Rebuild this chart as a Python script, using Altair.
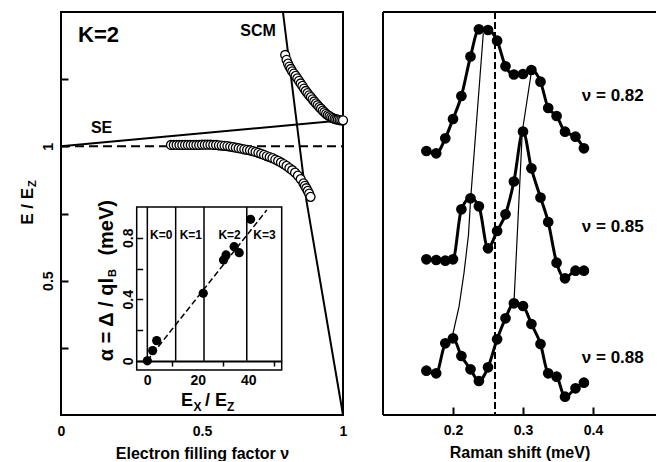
import altair as alt
import pandas as pd

# ---------------- left panel: E/E_Z versus filling factor ----------------
se_nu = [0.0, 1.0]
se_e = [1.0, 1.097]
scm_nu = [0.787, 0.870, 1.0]
scm_e = [1.5, 0.80, 0.0]
ref_nu = [0.0, 1.0]
ref_e = [1.0, 1.0]
lower_nu = [0.39, 0.40, 0.41, 0.42, 0.43, 0.44, 0.45, 0.46, 0.47, 0.48,
            0.49, 0.50, 0.51, 0.52, 0.53, 0.54, 0.55, 0.56, 0.57, 0.58,
            0.59, 0.60, 0.61, 0.62, 0.63, 0.64, 0.65, 0.66, 0.67, 0.68,
            0.69, 0.70, 0.71, 0.72, 0.73, 0.74, 0.75, 0.76, 0.77, 0.78,
            0.79, 0.80, 0.81, 0.82, 0.83, 0.84, 0.85, 0.86, 0.865, 0.87,
            0.875, 0.88, 0.885]
lower_e = [1.005, 1.005, 1.005, 1.005, 1.005, 1.005, 1.005, 1.005, 1.005, 1.005,
           1.005, 1.006, 1.006, 1.006, 1.006, 1.005, 1.005, 1.004, 1.003, 1.002,
           1.001, 0.999, 0.997, 0.995, 0.993, 0.991, 0.989, 0.987, 0.985, 0.982,
           0.979, 0.976, 0.972, 0.968, 0.964, 0.960, 0.956, 0.951, 0.946, 0.940,
           0.934, 0.927, 0.919, 0.911, 0.902, 0.891, 0.878, 0.862, 0.853, 0.844,
           0.834, 0.824, 0.812]
upper_nu = [0.795, 0.800, 0.805, 0.810, 0.815, 0.820, 0.826, 0.832, 0.838, 0.844,
            0.850, 0.856, 0.862, 0.868, 0.874, 0.880, 0.886, 0.892, 0.898, 0.904,
            0.910, 0.916, 0.922, 0.928, 0.934, 0.940, 0.946, 0.952, 0.958, 0.964,
            0.970, 0.976, 0.982, 0.988, 0.994, 1.000]
upper_e = [1.340, 1.322, 1.308, 1.297, 1.288, 1.279, 1.271, 1.262, 1.253, 1.244,
           1.234, 1.225, 1.215, 1.206, 1.198, 1.190, 1.183, 1.175, 1.167, 1.160,
           1.153, 1.146, 1.140, 1.133, 1.127, 1.121, 1.116, 1.112, 1.108, 1.105,
           1.102, 1.100, 1.099, 1.098, 1.097, 1.097]
main_x_ticks = [0, 0.5, 1]
main_y_ticks = [0.25, 0.5, 0.75, 1.0, 1.25]
main_text = ["K=2", "SCM", "SE"]
main_text_nu = [0.133, 0.699, 0.144]
main_text_e = [1.414, 1.429, 1.069]
main_text_size = [22, 16, 16]

# ---------------- inset: alpha versus E_X/E_Z ----------------
inset_ex = [0.1, 2.2, 3.8, 22.2, 30.2, 31.2, 34.4, 36.4, 40.9]
inset_alpha = [0.0, 0.066, 0.131, 0.439, 0.655, 0.688, 0.742, 0.703, 0.920]
fit_ex = [0.0, 47.3]
fit_alpha = [0.0, 0.98]
k_bounds = [0.1, 11.3, 22.5, 39.4]
k_names = ["K=0", "K=1", "K=2", "K=3"]
k_name_x = [5.6, 17.3, 32.6, 46.4]
k_name_alpha = [0.82, 0.82, 0.82, 0.82]
inset_x_ticks = [0, 10, 20, 30, 40, 50]
inset_y_ticks = [0, 0.2, 0.4, 0.6, 0.8]
inset_x_dom = [-4.1, 53.2]
inset_y_dom = [-0.06, 1.0]

# ---------------- right panel: Raman spectra ----------------
raman_shift = [0.162, 0.176, 0.189, 0.200, 0.212, 0.225, 0.237, 0.250, 0.263, 0.275,
               0.287, 0.300, 0.312, 0.325, 0.336, 0.348, 0.360, 0.375, 0.387]
spec_082 = [2.640, 2.617, 2.767, 2.960, 3.190, 3.585, 3.857, 3.850, 3.743, 3.487,
            3.405, 3.410, 3.450, 3.333, 3.070, 2.990, 2.833, 2.783, 2.667]
spec_085 = [1.557, 1.550, 1.543, 1.557, 2.057, 2.167, 2.087, 1.667, 1.840, 2.007,
            2.335, 2.835, 2.467, 2.175, 1.930, 1.523, 1.367, 1.443, 1.443]
spec_088 = [0.443, 0.417, 0.717, 0.767, 0.590, 0.457, 0.340, 0.477, 0.757, 0.967,
            1.117, 1.090, 0.910, 0.710, 0.417, 0.383, 0.183, 0.267, 0.323]
spec_names = ["ν = 0.82", "ν = 0.85", "ν = 0.88"]
spec_label_x = [0.384, 0.384, 0.384]
spec_label_y = [3.19, 1.88, 0.57]
peak_low_x = [0.2433, 0.2253, 0.2221, 0.2157, 0.2086, 0.1990]
peak_low_y = [3.817, 2.170, 1.800, 1.420, 1.083, 0.783]
peak_high_x = [0.3124, 0.2990, 0.2871]
peak_high_y = [3.450, 2.835, 1.123]
dash_shift = 0.26
raman_ticks = [0.2, 0.3, 0.4]

W1, W2, H = 282, 273, 403
ONE = pd.DataFrame({"v": [0]})
BLACK = "black"


def txt(text, x, y, size, angle=0, align="center", baseline="middle"):
    return alt.Chart(ONE).mark_text(
        text=text, fontSize=size, fontWeight="bold", angle=angle,
        align=align, baseline=baseline, color=BLACK
    ).encode(x=alt.value(x), y=alt.value(y))


# ---------- main panel encodings ----------
def mx():
    return alt.X("nu:Q", scale=alt.Scale(domain=[0, 1], nice=False, zero=False),
                 axis=alt.Axis(orient="bottom", values=main_x_ticks,
                               labelExpr="datum.value == 0 ? '0' : datum.value == 1 ? '1' : '0.5'",
                               ticks=False, tickSize=0, domain=False, grid=False,
                               labelFontSize=14, labelFontWeight="bold", labelColor=BLACK,
                               labelPadding=9, labelFlush=False, labelOverlap=False,
                               title="Electron filling factor ν", titleFontSize=16,
                               titleFontWeight="bold", titleColor=BLACK, titlePadding=7))


def my():
    return alt.Y("E:Q", scale=alt.Scale(domain=[0, 1.5], nice=False, zero=False),
                 axis=alt.Axis(orient="left", values=main_y_ticks,
                               labelExpr="datum.value == 0.5 ? '0.5' : datum.value == 1 ? '1' : ''",
                               tickSize=7, offset=-7, tickWidth=2, tickColor=BLACK,
                               domain=False, grid=False, labelAngle=270, labelAlign="center",
                               labelBaseline="bottom", labelPadding=6, labelFontSize=14,
                               labelFontWeight="bold", labelColor=BLACK, labelFlush=False,
                               labelOverlap=False, title=None, minExtent=0))


se_df = pd.DataFrame({"nu": se_nu, "E": se_e})
scm_df = pd.DataFrame({"nu": scm_nu, "E": scm_e})
ref_df = pd.DataFrame({"nu": ref_nu, "E": ref_e})
low_df = pd.DataFrame({"nu": lower_nu, "E": lower_e})
up_df = pd.DataFrame({"nu": upper_nu, "E": upper_e})
mt_df = pd.DataFrame({"nu": main_text_nu, "E": main_text_e, "t": main_text, "s": main_text_size})

anchor = alt.Chart(ONE).mark_rule(strokeOpacity=0, strokeWidth=0.01).encode(
    x=alt.value(-61), x2=alt.value(-61), y=alt.value(-12), y2=alt.value(447))
frame1 = alt.Chart(ONE).mark_rect(fillOpacity=0, stroke=BLACK, strokeWidth=2).encode(
    x=alt.value(0), x2=alt.value(W1), y=alt.value(0), y2=alt.value(H))
ref_line = alt.Chart(ref_df).mark_line(color=BLACK, strokeWidth=2, strokeDash=[9, 5]).encode(x=mx(), y=my())
se_line = alt.Chart(se_df).mark_line(color=BLACK, strokeWidth=2).encode(x=mx(), y=my())
scm_line = alt.Chart(scm_df).mark_line(color=BLACK, strokeWidth=2, clip=True).encode(x=mx(), y=my())
low_pts = alt.Chart(low_df).mark_point(shape="circle", size=80, filled=True, fill="white",
                                       stroke=BLACK, strokeWidth=1.3, opacity=1).encode(x=mx(), y=my())
up_pts = alt.Chart(up_df).mark_point(shape="circle", size=80, filled=True, fill="white",
                                     stroke=BLACK, strokeWidth=1.3, opacity=1).encode(x=mx(), y=my())
main_lab = alt.Chart(mt_df).mark_text(fontWeight="bold", color=BLACK).encode(
    x=mx(), y=my(), text="t:N", size=alt.Size("s:Q", scale=None))

ytitle1 = txt("E / E", -28, 176, 17, angle=270, align="right", baseline="alphabetic")
ytitle2 = txt("Z", -25, 175, 11, angle=270, align="left", baseline="alphabetic")

main = alt.layer(anchor, frame1, ref_line, se_line, scm_line, low_pts, up_pts, main_lab,
                 ytitle1, ytitle2)


# ---------- inset encodings ----------
def ix(field="ex"):
    return alt.X(f"{field}:Q", scale=alt.Scale(domain=inset_x_dom, range=[75.7, 220.7], nice=False, zero=False),
                 axis=alt.Axis(orient="bottom", values=inset_x_ticks, offset=-54,
                               labelExpr="datum.value % 20 === 0 ? datum.label : ''",
                               tickSize=5, tickWidth=1.5, tickColor=BLACK,
                               tickOpacity={"condition": {"test": "datum.value % 20 === 0", "value": 0}, "value": 1},
                               domain=True, domainColor=BLACK, domainWidth=2, grid=False,
                               labelFontSize=14, labelFontWeight="bold", labelColor=BLACK,
                               labelPadding=7, labelFlush=False, labelOverlap=False, title=None))


def iy(field="a"):
    return alt.Y(f"{field}:Q", scale=alt.Scale(domain=inset_y_dom, range=[358, 195], nice=False, zero=False),
                 axis=alt.Axis(orient="left", values=inset_y_ticks, offset=-81.7,
                               labelExpr="datum.value == 0 ? '0' : datum.value == 0.4 ? '0.4' : datum.value == 0.8 ? '0.8' : ''",
                               tickSize=6, tickWidth=1.5, tickColor=BLACK, domain=False, grid=False,
                               labelAngle=270, labelAlign="center", labelBaseline="bottom",
                               labelPadding=1, labelFontSize=14, labelFontWeight="bold", labelColor=BLACK,
                               labelFlush=False, labelOverlap=False, title=None, minExtent=0))


ibox_df = pd.DataFrame({"ex": [inset_x_dom[0]], "ex2": [inset_x_dom[1]],
                        "a": [inset_y_dom[0]], "a2": [inset_y_dom[1]]})
kline_df = pd.DataFrame({"ex": k_bounds, "a": [0.0] * 4, "a2": [1.0] * 4})
fit_df = pd.DataFrame({"ex": fit_ex, "a": fit_alpha})
ipts_df = pd.DataFrame({"ex": inset_ex, "a": inset_alpha})
kname_df = pd.DataFrame({"ex": k_name_x, "a": k_name_alpha, "t": k_names})

ibox = alt.Chart(ibox_df).mark_rect(fillOpacity=0, stroke=BLACK, strokeWidth=1.5).encode(
    x=ix(), x2="ex2:Q", y=iy(), y2="a2:Q")
klines = alt.Chart(kline_df).mark_rule(color=BLACK, strokeWidth=1.5).encode(x=ix(), y=iy(), y2="a2:Q")
fit = alt.Chart(fit_df).mark_line(color=BLACK, strokeWidth=1.5, strokeDash=[6, 3]).encode(x=ix(), y=iy())
ipts = alt.Chart(ipts_df).mark_circle(size=85, color=BLACK, opacity=1).encode(x=ix(), y=iy())
knames = alt.Chart(kname_df).mark_text(fontSize=12, fontWeight="bold", color=BLACK).encode(
    x=ix(), y=iy(), text="t:N")

ixt1 = txt("E", 132, 394, 18, align="right", baseline="alphabetic")
ixt2 = txt("X", 132.5, 399, 12, align="left", baseline="alphabetic")
ixt3 = txt(" / E", 166, 394, 18, align="right", baseline="alphabetic")
ixt4 = txt("Z", 166, 399, 12, align="left", baseline="alphabetic")
iyt1 = txt("α = Δ / ql", 52, 266, 20, angle=270, align="right", baseline="alphabetic")
iyt2 = txt("B", 55, 265, 11, angle=270, align="left", baseline="alphabetic")
iyt3 = txt("(meV)", 52, 188, 20, angle=270, align="right", baseline="alphabetic")

inset = alt.layer(ibox, klines, fit, ipts, knames, ixt1, ixt2, ixt3, ixt4, iyt1, iyt2, iyt3)

left = alt.layer(main, inset).resolve_scale(x="independent", y="independent").properties(width=W1, height=H)


# ---------- right panel ----------
def rx(field="shift"):
    return alt.X(f"{field}:Q", scale=alt.Scale(domain=[0.1, 0.49], nice=False, zero=False),
                 axis=alt.Axis(orient="bottom", values=raman_ticks, format=".1f", offset=-8,
                               tickSize=8, tickWidth=2, tickColor=BLACK, domain=False, grid=False,
                               labelFontSize=14, labelFontWeight="bold", labelColor=BLACK,
                               labelPadding=8, labelFlush=False, labelOverlap=False,
                               title="Raman shift (meV)", titleFontSize=16, titleFontWeight="bold",
                               titleColor=BLACK, titlePadding=7))


def ry(field="I"):
    return alt.Y(f"{field}:Q", scale=alt.Scale(domain=[0, 4.03], nice=False, zero=False), axis=None)


rows = []
for name, vals in zip(spec_names, [spec_082, spec_085, spec_088]):
    for s, v in zip(raman_shift, vals):
        rows.append({"shift": s, "I": v, "spec": name})
spec_df = pd.DataFrame(rows)
guide_rows = []
for g, (xs, ys) in enumerate([(peak_low_x, peak_low_y), (peak_high_x, peak_high_y)]):
    for k, (xv, yv) in enumerate(zip(xs, ys)):
        guide_rows.append({"shift": xv, "I": yv, "g": g, "o": k})
guide_df = pd.DataFrame(guide_rows)
slab_df = pd.DataFrame({"shift": spec_label_x, "I": spec_label_y, "t": spec_names})
dash_df = pd.DataFrame({"shift": [dash_shift]})

frame2 = alt.Chart(ONE).mark_rule(color=BLACK, strokeWidth=2).encode(
    x=alt.value(0), x2=alt.value(0), y=alt.value(0), y2=alt.value(H))
frame3 = alt.Chart(ONE).mark_rule(color=BLACK, strokeWidth=2).encode(
    x=alt.value(0), x2=alt.value(W2), y=alt.value(0), y2=alt.value(0))
frame4 = alt.Chart(ONE).mark_rule(color=BLACK, strokeWidth=2).encode(
    x=alt.value(0), x2=alt.value(W2), y=alt.value(H), y2=alt.value(H))
dash_rule = alt.Chart(dash_df).mark_rule(color=BLACK, strokeWidth=2, strokeDash=[7, 3]).encode(x=rx())
guides = alt.Chart(guide_df).mark_line(color=BLACK, strokeWidth=1.2, interpolate="linear").encode(
    x=rx(), y=ry(), order="o:Q", detail="g:N")
spec_lines = alt.Chart(spec_df).mark_line(color=BLACK, strokeWidth=3, interpolate="monotone").encode(
    x=rx(), y=ry(), detail="spec:N")
spec_pts = alt.Chart(spec_df).mark_circle(size=115, color=BLACK, opacity=1).encode(x=rx(), y=ry())
spec_lab = alt.Chart(slab_df).mark_text(fontSize=17, fontWeight="bold", align="left", color=BLACK).encode(
    x=rx(), y=ry(), text="t:N")

right = alt.layer(frame2, frame3, frame4, dash_rule, guides, spec_lines, spec_pts, spec_lab).properties(
    width=W2, height=H)

chart = alt.hconcat(left, right, spacing=40, bounds="flush").properties(
    padding={"left": 0, "top": 0, "right": 0, "bottom": 0}
).configure(font="Liberation Sans").configure_view(strokeWidth=0)

chart.save("out.html", embed_options={"renderer": "svg", "actions": False})
